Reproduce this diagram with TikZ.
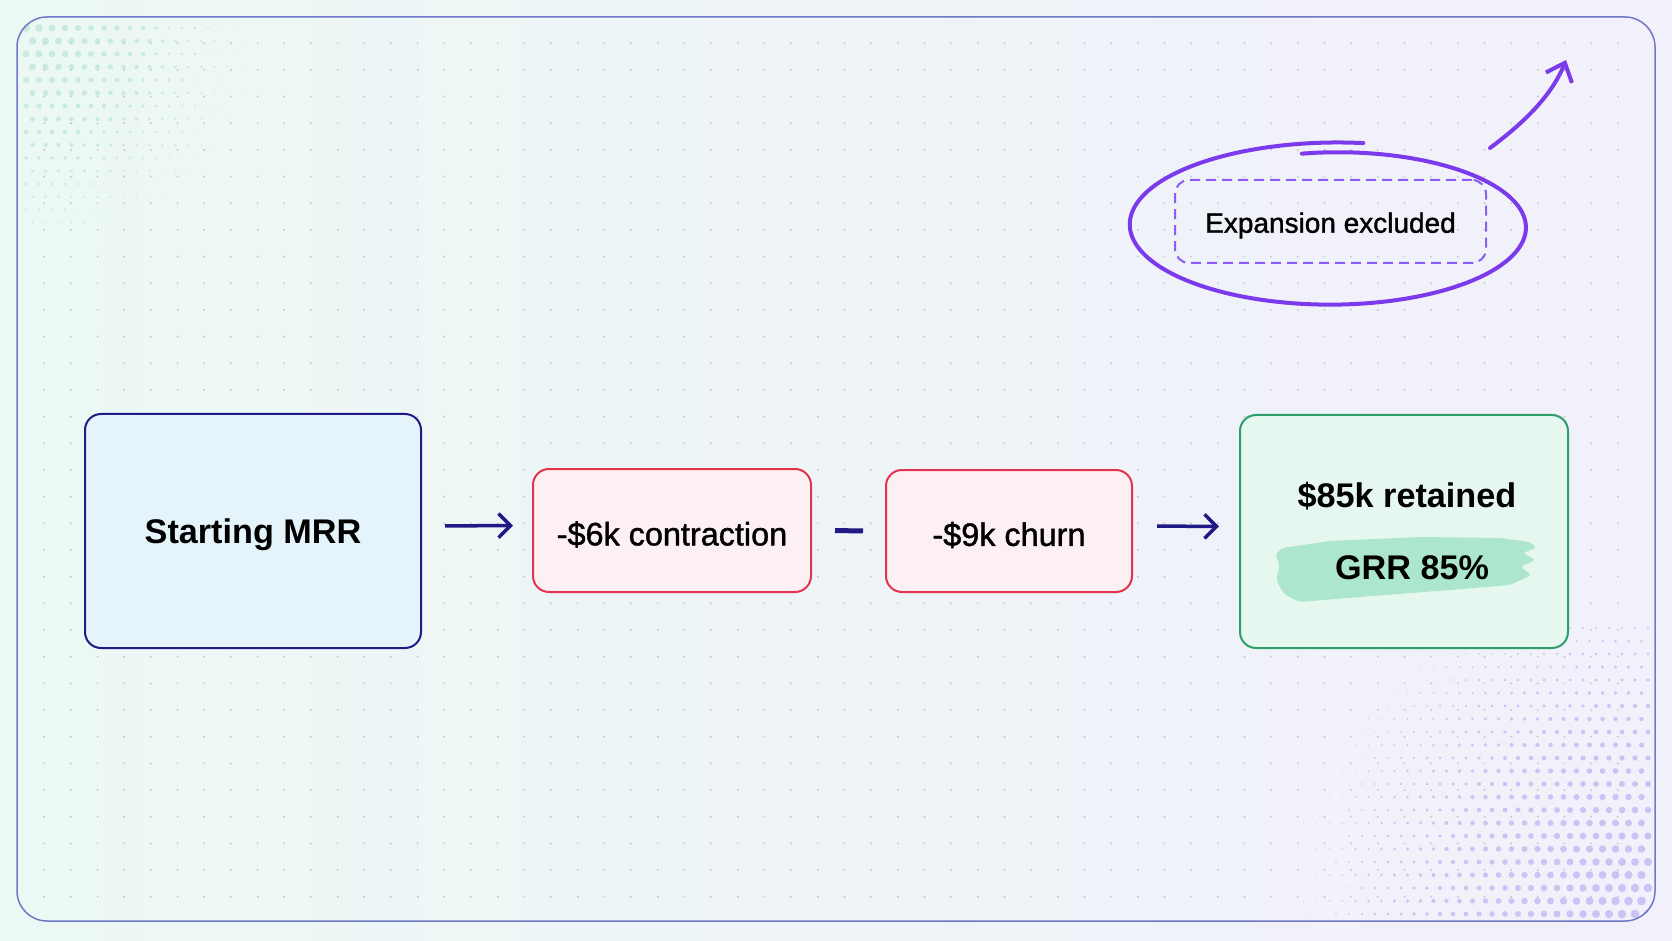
\documentclass[tikz,border=0pt]{standalone}
\usepackage{fontspec}
\setmainfont{Liberation Sans}
\newfontfamily\mediumfont[FakeBold=1.3]{Liberation Sans}
\usetikzlibrary{arrows.meta}

\definecolor{navy}{HTML}{1F1A86}
\definecolor{loss}{HTML}{E2334F}
\definecolor{keep}{HTML}{2E9E6B}
\definecolor{loopcol}{HTML}{7C3AED}
\definecolor{dashcol}{HTML}{8B5CF6}
\definecolor{framecol}{HTML}{7078C8}
\definecolor{startfill}{HTML}{E5F4FA}
\definecolor{lossfill}{HTML}{FDF0F3}
\definecolor{keepfill}{HTML}{E6F7EF}
\definecolor{brush}{HTML}{A3E4C7}
\definecolor{griddot}{HTML}{C5C9D0}
\definecolor{bgleft}{HTML}{ECF8F4}
\definecolor{bgright}{HTML}{F2F0FB}
\definecolor{mintdot}{HTML}{B2E3D0}
\definecolor{lavdot}{HTML}{B0A8F2}

\newcommand{\lowered}[1]{\raisebox{-2pt}[\height][\depth]{#1}}

\tikzset{
  card/.style={draw, rounded corners=8pt, line width=1pt, align=center, inner sep=0pt},
  flow/.style={navy, line width=1.75pt, -{Straight Barb[length=6pt,width=12pt]}},
  bigtext/.style={font=\bfseries\fontsize{17.1}{20}\selectfont},
}

\begin{document}
\begin{tikzpicture}[x=0.5pt, y=-0.5pt, font=\mediumfont\fontsize{16.2}{20}\selectfont, line join=round]
\useasboundingbox (0,0) rectangle (1672,941);
\shade[left color=bgleft, right color=bgright] (0,0) rectangle (1672,941);

% dot grid and halftone corners
\begin{scope}
\clip[rounded corners=15pt] (17,17) rectangle (1655,921);
\foreach \i in {0,...,59}
  \foreach \j in {0,...,32}
    \fill[griddot] ({44.3+26.67*\i},{43.3+26.67*\j}) circle (0.55pt);
\foreach \i in {0,...,18}
  \foreach \j in {0,...,15} {
    \pgfmathsetmacro\r{max(0,2*(1-13*sqrt(\i*\i+\j*\j)/250))}
    \fill[mintdot, opacity=0.6] ({26+13*\i+6.5*mod(\j,2)},{28+13*\j}) circle (\r pt);
  }
\foreach \i in {0,...,28}
  \foreach \j in {0,...,22} {
    \pgfmathsetmacro\r{max(0,2.3*(1-13*sqrt(\i*\i+\j*\j)/380))}
    \fill[lavdot, opacity=0.6] ({1648-13*\i-6.5*mod(\j,2)},{914-13*\j}) circle (\r pt);
  }
\end{scope}
\draw[framecol, line width=0.75pt, rounded corners=15pt] (17,17) rectangle (1655,921);

% flow
\node[card, draw=navy, fill=startfill, minimum width=168pt, minimum height=117pt, bigtext] (start) at (253,531) {\lowered{Starting MRR}};
\node[card, draw=loss, fill=lossfill, minimum width=139pt, minimum height=61.5pt] (contr) at (672,530.5) {\lowered{-\$6k contraction}};
\node[card, draw=loss, fill=lossfill, minimum width=123pt, minimum height=61pt] (churn) at (1009,531) {\lowered{-\$9k churn}};
\node[card, draw=keep, fill=keepfill, minimum width=164pt, minimum height=116.5pt] (retained) at (1404,531.5) {};

\fill[brush, opacity=0.85, rounded corners=2pt] (1282,548) -- (1330,541) -- (1420,537) -- (1500,538) -- (1530,542)
  -- (1537,548) -- (1522,553) -- (1536,560) -- (1520,567) -- (1532,575) -- (1510,585)
  -- (1450,590) -- (1360,597) -- (1300,602) -- (1285,595) -- (1276,580) -- (1280,565) -- (1275,555) -- cycle;
\node[bigtext] (kept) at (1407,496) {\$85k retained};
\node[bigtext] (grr) at (1412,568) {GRR 85\%};

\draw[flow, shorten <=11.5pt, shorten >=9.5pt] ([yshift=2.5pt]start.east) -- ([yshift=2.5pt]contr.west);
\draw[navy, line width=2.5pt, shorten <=11.5pt, shorten >=11pt] (contr.east) -- (churn.west);
\draw[flow, shorten <=12pt, shorten >=10pt] ([yshift=2.5pt]churn.east) -- ([yshift=2.5pt]retained.west);

% expansion note
\node[draw=dashcol, line width=1pt, dash pattern=on 5pt off 3pt, rounded corners=7pt,
  minimum width=155.5pt, minimum height=41.5pt, font=\mediumfont\fontsize{14}{17}\selectfont] (excl) at (1330.5,221.5) {\lowered{Expansion excluded}};
\draw[loopcol, line width=2pt, line cap=round] plot[smooth, samples=90, domain=100:-278, variable=\t]
  ({1334+199*(0.93+0.13*(100-\t)/378)*cos(\t)}, {226-79*(0.93+0.13*(100-\t)/378)*sin(\t)});
\coordinate (loopend) at (1490,148);
\coordinate (uptip) at (1566,60);
\draw[loopcol, line width=2pt, line cap=round, -{Straight Barb[length=8pt,width=14pt]}] (loopend) .. controls (1525,122) and (1552,95) .. (uptip);

\end{tikzpicture}
\end{document}
